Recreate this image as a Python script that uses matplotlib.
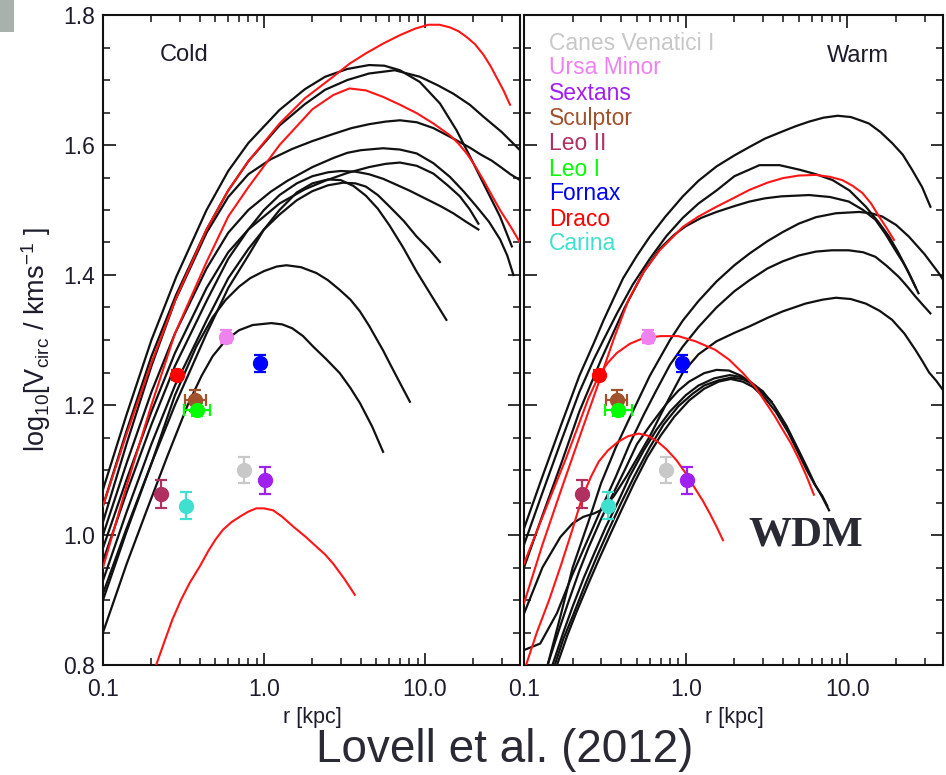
import matplotlib
matplotlib.use('Agg')
import matplotlib.pyplot as plt
from matplotlib.ticker import FixedLocator, FixedFormatter, MultipleLocator, NullFormatter
from matplotlib.patches import Rectangle

plt.rcParams['font.family'] = ['Liberation Sans', 'DejaVu Sans']
plt.rcParams['mathtext.fontset'] = 'custom'
plt.rcParams['mathtext.rm'] = 'Liberation Sans'
plt.rcParams['mathtext.it'] = 'Liberation Sans:italic'
plt.rcParams['mathtext.bf'] = 'Liberation Sans:bold'

# ---------------- data ----------------
galaxies = ['Canes Venatici I', 'Ursa Minor', 'Sextans', 'Sculptor', 'Leo II',
            'Leo I', 'Fornax', 'Draco', 'Carina']
gal_colors = ['#c8c8c8', '#ee82ee', '#a020f0', '#a0522d', '#b03060',
              '#00ff00', '#0000ff', '#ff0000', '#40e0d0']
gal_r = [0.751, 0.583, 1.02, 0.374, 0.230, 0.383, 0.951, 0.289, 0.329]
gal_v = [1.100, 1.305, 1.084, 1.207, 1.063, 1.193, 1.264, 1.246, 1.045]
gal_verr = [0.020, 0.010, 0.021, 0.016, 0.021, 0.010, 0.013, 0.008, 0.021]
gal_xerr_dex = [0.0, 0.0, 0.0, 0.065, 0.0, 0.083, 0.0, 0.0, 0.0]

# Cold panel: black curves (r in kpc, log10 Vcirc)
cold_black_r = [
    [0.1, 0.14, 0.2, 0.285, 0.44, 0.6, 0.8, 1.25, 1.8, 2.4, 3.3, 4.5, 5.6, 7.0, 9.3, 12.4, 15.7, 19.1, 23.1, 29.3, 34.7],
    [0.1, 0.14, 0.2, 0.285, 0.44, 0.6, 0.8, 1.25, 1.8, 2.4, 3.3, 4.5, 6.5, 9.3, 12.0, 15.0, 19.0, 23.0, 30.0, 39.0],
    [0.1, 0.14, 0.2, 0.28, 0.44, 0.6, 0.8, 1.1, 1.5, 2.0, 2.7, 3.5, 4.5, 5.7, 7.0, 8.9, 11.3, 15.0, 19.0, 22.0, 26.0, 30.0, 34.0, 39.0],
    [0.1, 0.14, 0.2, 0.28, 0.44, 0.6, 0.8, 1.1, 1.4, 2.0, 2.7, 3.3, 4.0, 5.5, 7.0, 8.9, 11.3, 14.3, 17.5, 21.0, 25.0, 29.3, 32.5, 35.5],
    [0.1, 0.14, 0.2, 0.28, 0.44, 0.6, 0.8, 1.25, 1.8, 2.4, 3.3, 4.5, 5.7, 7.0, 8.9, 11.3, 14.0, 16.5, 19.0, 21.5],
    [0.1, 0.14, 0.2, 0.28, 0.44, 0.6, 0.8, 1.0, 1.25, 1.6, 2.0, 2.5, 3.0, 3.7, 4.5, 5.5, 6.5, 8.0, 10.0, 12.5, 15.0, 18.0, 21.5],
    [0.1, 0.14, 0.2, 0.28, 0.44, 0.6, 0.8, 1.0, 1.25, 1.6, 2.0, 2.5, 3.1, 3.7, 4.3, 5.1, 6.05, 7.4, 8.9, 10.6, 12.4],
    [0.1, 0.14, 0.2, 0.28, 0.44, 0.6, 0.8, 1.0, 1.25, 1.6, 2.0, 2.5, 3.0, 3.6, 4.3, 5.1, 6.0, 7.3, 8.9, 11.0, 13.6],
    [0.1, 0.14, 0.2, 0.28, 0.38, 0.48, 0.58, 0.7, 0.82, 1.0, 1.2, 1.38, 1.7, 2.12, 2.5, 2.96, 3.45, 3.95, 4.5, 5.0, 5.5, 6.05, 7.0, 8.07],
    [0.1, 0.14, 0.185, 0.25, 0.336, 0.41, 0.48, 0.58, 0.7, 0.85, 1.11, 1.3, 1.5, 1.75, 2.02, 2.45, 2.96, 3.45, 3.95, 4.7, 5.5],
]
cold_black_v = [
    [1.07, 1.185, 1.30, 1.397, 1.50, 1.56, 1.603, 1.654, 1.686, 1.705, 1.717, 1.723, 1.722, 1.715, 1.697, 1.664, 1.623, 1.582, 1.541, 1.49, 1.444],
    [1.045, 1.16, 1.275, 1.37, 1.47, 1.53, 1.575, 1.63, 1.663, 1.685, 1.70, 1.71, 1.715, 1.705, 1.692, 1.679, 1.662, 1.644, 1.62, 1.592],
    [1.02, 1.14, 1.26, 1.36, 1.465, 1.52, 1.555, 1.578, 1.594, 1.606, 1.617, 1.626, 1.632, 1.636, 1.638, 1.635, 1.626, 1.61, 1.596, 1.586, 1.576, 1.565, 1.555, 1.546],
    [1.0, 1.11, 1.22, 1.31, 1.41, 1.465, 1.50, 1.528, 1.545, 1.566, 1.58, 1.588, 1.592, 1.595, 1.593, 1.587, 1.572, 1.551, 1.528, 1.505, 1.482, 1.455, 1.43, 1.40],
    [0.98, 1.085, 1.19, 1.28, 1.38, 1.435, 1.47, 1.51, 1.532, 1.545, 1.557, 1.566, 1.571, 1.573, 1.568, 1.556, 1.537, 1.521, 1.501, 1.479],
    [0.96, 1.065, 1.17, 1.26, 1.36, 1.425, 1.47, 1.50, 1.523, 1.541, 1.552, 1.558, 1.56, 1.559, 1.555, 1.548, 1.54, 1.53, 1.518, 1.506, 1.495, 1.482, 1.47],
    [0.93, 1.035, 1.14, 1.23, 1.33, 1.395, 1.44, 1.47, 1.493, 1.515, 1.529, 1.538, 1.542, 1.541, 1.536, 1.523, 1.505, 1.483, 1.459, 1.44, 1.42],
    [0.91, 1.01, 1.11, 1.20, 1.31, 1.38, 1.43, 1.47, 1.50, 1.527, 1.541, 1.547, 1.546, 1.537, 1.522, 1.502, 1.477, 1.443, 1.405, 1.368, 1.331],
    [0.90, 1.005, 1.11, 1.215, 1.29, 1.335, 1.362, 1.382, 1.395, 1.406, 1.413, 1.415, 1.412, 1.403, 1.392, 1.377, 1.362, 1.344, 1.322, 1.302, 1.284, 1.264, 1.234, 1.205],
    [0.85, 0.955, 1.035, 1.12, 1.20, 1.245, 1.275, 1.30, 1.315, 1.323, 1.326, 1.324, 1.318, 1.306, 1.29, 1.27, 1.249, 1.226, 1.203, 1.167, 1.128],
]
# Cold panel: red curves
cold_red_r = [
    [0.1, 0.14, 0.2, 0.285, 0.44, 0.6, 0.8, 1.25, 1.8, 2.69, 3.4, 4.3, 5.5, 7.0, 8.7, 10.5, 12.3, 14.3, 16.2, 18.2, 20.5, 23.1, 25.5, 27.9, 30.8, 33.8],
    [0.1, 0.14, 0.2, 0.28, 0.44, 0.6, 0.8, 1.25, 2.0, 2.7, 3.4, 4.3, 5.5, 7.0, 8.9, 11.3, 14.3, 16.2, 18.2, 20.5, 23.1, 26.0, 29.3, 34.0, 39.0],
    [0.214, 0.24, 0.27, 0.305, 0.345, 0.4, 0.45, 0.5, 0.556, 0.63, 0.707, 0.8, 0.896, 1.0, 1.14, 1.3, 1.52, 1.8, 2.12, 2.4, 2.69, 3.15, 3.67],
]
cold_red_v = [
    [1.045, 1.155, 1.265, 1.365, 1.47, 1.53, 1.575, 1.633, 1.672, 1.705, 1.725, 1.741, 1.756, 1.769, 1.779, 1.785, 1.785, 1.781, 1.775, 1.766, 1.755, 1.739, 1.722, 1.704, 1.684, 1.662],
    [0.95, 1.075, 1.20, 1.31, 1.42, 1.49, 1.535, 1.60, 1.655, 1.677, 1.687, 1.684, 1.674, 1.662, 1.649, 1.633, 1.615, 1.602, 1.587, 1.568, 1.546, 1.523, 1.50, 1.475, 1.45],
    [0.80, 0.835, 0.87, 0.90, 0.926, 0.952, 0.975, 0.993, 1.008, 1.02, 1.028, 1.036, 1.041, 1.041, 1.038, 1.028, 1.013, 0.998, 0.982, 0.97, 0.956, 0.933, 0.908],
]

# Warm panel: black curves
warm_black_r = [
    [0.1, 0.13, 0.17, 0.22, 0.27, 0.31, 0.36, 0.41, 0.5, 0.6, 0.75, 0.96, 1.2, 1.55, 2.0, 2.48, 3.1, 3.98, 4.8, 5.8, 7.1, 8.7, 10.5, 12.0, 13.6, 16.0, 18.9, 22.0, 25.1, 29.0, 32.6],
    [0.1, 0.13, 0.17, 0.22, 0.27, 0.31, 0.374, 0.47, 0.6, 0.76, 0.96, 1.2, 1.55, 2.0, 2.86, 3.8, 5.05, 6.4, 8.1, 10.3, 13.0, 15.5, 18.1, 20.5, 22.9, 26.3],
    [0.1, 0.13, 0.17, 0.22, 0.3, 0.42, 0.55, 0.69, 0.85, 1.0, 1.25, 1.55, 2.0, 2.48, 3.1, 3.9, 5.8, 7.8, 10.2, 12.5, 14.9, 17.2, 19.8, 22.0, 24.0, 27.5],
    [0.14, 0.17, 0.2, 0.25, 0.3, 0.37, 0.45, 0.6, 0.8, 0.96, 1.2, 1.55, 2.0, 2.48, 3.2, 3.98, 5.0, 6.4, 8.5, 11.8, 14.0, 16.4, 20.0, 24.0, 30.0, 36.7, 39.0],
    [0.1, 0.126, 0.16, 0.2, 0.25, 0.3, 0.37, 0.45, 0.55, 0.65, 0.8, 0.96, 1.2, 1.55, 2.0, 2.48, 3.2, 3.98, 5.0, 6.38, 8.0, 10.2, 12.5, 14.9, 17.5, 20.8, 23.5, 26.3, 29.5, 32.6],
    [0.1, 0.13, 0.168, 0.2, 0.233, 0.27, 0.31, 0.36, 0.43, 0.5, 0.6, 0.7, 0.8, 0.96, 1.2, 1.55, 2.0, 2.48, 3.2, 3.98, 5.5, 7.0, 8.5, 10.5, 13.0, 15.8, 18.9, 22.5, 26.3, 29.0, 32.0, 35.5, 39.0],
    [0.14, 0.165, 0.19, 0.22, 0.25, 0.3, 0.35, 0.42, 0.5, 0.6, 0.75, 0.9, 1.05, 1.3, 1.55, 1.85, 2.2, 2.7, 3.3],
    [0.15, 0.175, 0.2, 0.235, 0.27, 0.32, 0.38, 0.45, 0.55, 0.66, 0.8, 1.0, 1.2, 1.5, 1.87, 2.2, 2.5, 3.0, 3.5, 4.2, 5.0, 5.6, 6.3, 7.0, 7.7],
    [0.155, 0.175, 0.2, 0.24, 0.28, 0.33, 0.4, 0.48, 0.6, 0.73, 0.9, 1.1, 1.3, 1.6, 1.9, 2.25, 2.6, 3.0, 3.4],
    [0.16, 0.185, 0.21, 0.25, 0.29, 0.34, 0.4, 0.48, 0.58, 0.7, 0.85, 1.05, 1.3, 1.6, 1.9, 2.25, 2.6, 3.1, 3.6, 4.3, 5.0, 5.6, 6.3, 7.0, 7.5],
]
warm_black_v = [
    [1.01, 1.09, 1.17, 1.245, 1.295, 1.33, 1.365, 1.395, 1.43, 1.459, 1.49, 1.521, 1.545, 1.567, 1.584, 1.597, 1.61, 1.621, 1.629, 1.636, 1.642, 1.645, 1.643, 1.638, 1.633, 1.62, 1.603, 1.585, 1.562, 1.535, 1.505],
    [0.985, 1.065, 1.145, 1.22, 1.27, 1.30, 1.34, 1.385, 1.425, 1.46, 1.488, 1.51, 1.53, 1.552, 1.569, 1.569, 1.562, 1.555, 1.546, 1.53, 1.505, 1.482, 1.459, 1.436, 1.413, 1.382],
    [0.95, 1.03, 1.11, 1.19, 1.27, 1.35, 1.405, 1.44, 1.462, 1.475, 1.488, 1.497, 1.506, 1.513, 1.518, 1.521, 1.523, 1.52, 1.513, 1.50, 1.485, 1.463, 1.438, 1.42, 1.403, 1.372],
    [0.80, 0.88, 0.95, 1.02, 1.08, 1.135, 1.18, 1.245, 1.30, 1.33, 1.36, 1.39, 1.415, 1.433, 1.452, 1.466, 1.479, 1.489, 1.495, 1.497, 1.495, 1.49, 1.477, 1.459, 1.432, 1.403, 1.393],
    [0.823, 0.833, 0.88, 0.94, 0.995, 1.04, 1.09, 1.14, 1.185, 1.22, 1.262, 1.29, 1.32, 1.35, 1.375, 1.392, 1.41, 1.421, 1.43, 1.436, 1.438, 1.438, 1.435, 1.428, 1.414, 1.397, 1.382, 1.367, 1.353, 1.341],
    [0.879, 0.95, 0.997, 1.018, 1.028, 1.033, 1.04, 1.06, 1.09, 1.118, 1.152, 1.185, 1.213, 1.25, 1.278, 1.298, 1.311, 1.321, 1.334, 1.344, 1.356, 1.362, 1.365, 1.363, 1.356, 1.345, 1.331, 1.31, 1.285, 1.268, 1.25, 1.237, 1.223],
    [0.80, 0.855, 0.90, 0.945, 0.98, 1.025, 1.06, 1.10, 1.14, 1.168, 1.20, 1.222, 1.236, 1.249, 1.254, 1.253, 1.245, 1.229, 1.208],
    [0.80, 0.85, 0.89, 0.935, 0.97, 1.012, 1.05, 1.09, 1.13, 1.162, 1.19, 1.215, 1.23, 1.241, 1.246, 1.243, 1.236, 1.221, 1.20, 1.168, 1.13, 1.105, 1.078, 1.058, 1.038],
    [0.80, 0.84, 0.875, 0.925, 0.965, 1.005, 1.05, 1.09, 1.135, 1.17, 1.198, 1.217, 1.23, 1.238, 1.242, 1.24, 1.232, 1.218, 1.205],
    [0.80, 0.845, 0.88, 0.925, 0.962, 1.0, 1.038, 1.08, 1.12, 1.153, 1.182, 1.207, 1.225, 1.236, 1.24, 1.236, 1.228, 1.21, 1.19, 1.158, 1.125, 1.10, 1.077, 1.06, 1.045],
]
# Warm panel: red curves
warm_red_r = [
    [0.1, 0.13, 0.17, 0.22, 0.3, 0.357, 0.443, 0.55, 0.69, 0.96, 1.2, 1.55, 2.0, 2.48, 3.2, 3.98, 5.0, 6.38, 7.8, 9.3, 10.8, 12.4, 14.0, 15.7, 17.5, 19.4],
    [0.1, 0.11, 0.146, 0.18, 0.212, 0.25, 0.29, 0.33, 0.375, 0.45, 0.536, 0.7, 0.9, 1.15, 1.52, 1.85, 2.26, 2.7, 3.14, 3.55, 3.98, 4.5, 5.05, 5.6, 6.2],
    [0.103, 0.12, 0.143, 0.17, 0.199, 0.229, 0.26, 0.29, 0.33, 0.38, 0.44, 0.513, 0.58, 0.66, 0.76, 0.877, 1.0, 1.16, 1.28, 1.41, 1.55, 1.70],
]
warm_red_v = [
    [0.895, 0.985, 1.07, 1.15, 1.245, 1.30, 1.362, 1.405, 1.438, 1.474, 1.49, 1.505, 1.519, 1.531, 1.542, 1.549, 1.553, 1.554, 1.551, 1.546, 1.537, 1.526, 1.51, 1.49, 1.472, 1.454],
    [0.956, 0.982, 1.059, 1.115, 1.162, 1.21, 1.245, 1.265, 1.28, 1.294, 1.302, 1.306, 1.306, 1.298, 1.285, 1.27, 1.249, 1.227, 1.203, 1.183, 1.162, 1.14, 1.115, 1.09, 1.062],
    [0.80, 0.85, 0.90, 0.955, 1.008, 1.058, 1.09, 1.113, 1.13, 1.143, 1.152, 1.156, 1.153, 1.145, 1.132, 1.115, 1.095, 1.069, 1.052, 1.033, 1.013, 0.992],
]

x_major = [0.1, 1.0, 10.0]
x_major_labels = ['0.1', '1.0', '10.0']
x_minor = [0.2, 0.3, 0.4, 0.5, 0.6, 0.7, 0.8, 0.9, 2, 3, 4, 5, 6, 7, 8, 9, 20, 30]
y_major = [0.8, 1.0, 1.2, 1.4, 1.6, 1.8]
y_major_labels = ['0.8', '1.0', '1.2', '1.4', '1.6', '1.8']

# ---------------- figure ----------------
W, H = 946, 775
fig = plt.figure(figsize=(W / 100, H / 100), dpi=100)


def px_rect(x0, y0, x1, y1):
    return [x0 / W, 1 - y1 / H, (x1 - x0) / W, (y1 - y0) / H]


axL = fig.add_axes(px_rect(103, 15, 520, 665))
axR = fig.add_axes(px_rect(524, 15, 943, 665))

TXT = '#1c1c2c'
BLACK = '#111111'
RED = '#ff1515'


def style(ax, show_ylabels):
    ax.set_xscale('log')
    ax.set_xlim(0.1, 39)
    ax.set_ylim(0.8, 1.8)
    ax.xaxis.set_major_locator(FixedLocator(x_major))
    ax.xaxis.set_major_formatter(FixedFormatter(x_major_labels))
    ax.xaxis.set_minor_locator(FixedLocator(x_minor))
    ax.xaxis.set_minor_formatter(NullFormatter())
    ax.yaxis.set_major_locator(FixedLocator(y_major))
    ax.yaxis.set_major_formatter(FixedFormatter(y_major_labels))
    ax.yaxis.set_minor_locator(MultipleLocator(0.05))
    ax.tick_params(which='both', direction='in', top=True, right=True,
                   colors=BLACK, labelcolor=TXT, labelsize=16.5)
    ax.tick_params(which='major', length=9, width=1.2)
    ax.tick_params(which='minor', length=5, width=1.1)
    ax.tick_params(axis='x', pad=9)
    ax.tick_params(axis='y', pad=6, labelleft=show_ylabels)
    for s in ax.spines.values():
        s.set_linewidth(1.5)
        s.set_color(BLACK)


def draw_panel(ax, br, bv, rr, rv):
    for r, v in zip(br, bv):
        ax.plot(r, v, color=BLACK, lw=1.6, zorder=2, solid_joinstyle='round')
    for r, v in zip(rr, rv):
        ax.plot(r, v, color=RED, lw=1.5, zorder=3, solid_joinstyle='round')
    for r, v, ve, xd, c in zip(gal_r, gal_v, gal_verr, gal_xerr_dex, gal_colors):
        xe = None
        if xd > 0:
            xe = [[r - r / 10 ** xd], [r * 10 ** xd - r]]
        ax.errorbar([r], [v], yerr=[ve], xerr=xe, fmt='o', color=c, ms=10,
                    mec=c, elinewidth=1.6, capsize=4.5, capthick=1.6, zorder=5)


style(axL, True)
style(axR, False)
draw_panel(axL, cold_black_r, cold_black_v, cold_red_r, cold_red_v)
draw_panel(axR, warm_black_r, warm_black_v, warm_red_r, warm_red_v)

# panel titles
fig.text(184 / W, 1 - 55 / H, 'Cold', ha='center', va='center', fontsize=17, color=TXT)
fig.text(858 / W, 1 - 56 / H, 'Warm', ha='center', va='center', fontsize=17, color=TXT)

# legend as coloured text
leg_y = [43, 68, 93, 119, 144, 169, 194, 219, 244]
for name, c, y in zip(galaxies, gal_colors, leg_y):
    fig.text(549 / W, 1 - y / H, name, ha='left', va='center', fontsize=16.5, color=c)

# axis labels
fig.text(312 / W, 1 - 717 / H, 'r [kpc]', ha='center', va='center', fontsize=15.5, color=TXT)
fig.text(734 / W, 1 - 717 / H, 'r [kpc]', ha='center', va='center', fontsize=15.5, color=TXT)
fig.text(36 / W, 1 - 340 / H, 'log$_{10}$[V$_{\\rm circ}$ / kms$^{-1}$ ]', ha='center', va='center',
         rotation=90, fontsize=19.5, color=TXT)

# annotations
fig.text(806 / W, 1 - 535 / H, 'WDM', ha='center', va='center', fontsize=31,
         family=['Liberation Serif', 'DejaVu Serif'], weight='bold', color='#2a2a35')
fig.text(505 / W, 1 - 750 / H, 'Lovell et al. (2012)', ha='center', va='center',
         fontsize=33, color='#2a2a35')

# grey corner block
fig.patches.append(Rectangle((0, 1 - 32 / H), 14 / W, 32 / H, transform=fig.transFigure,
                             facecolor='#a8b1ab', edgecolor='none', zorder=0))

fig.savefig('out.png', dpi=100)
